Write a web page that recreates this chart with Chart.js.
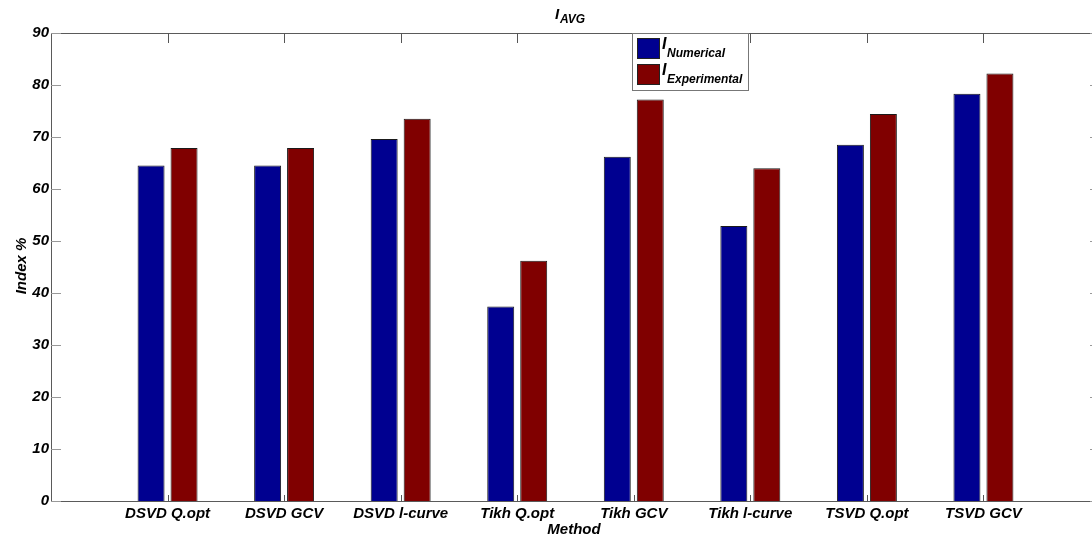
<!DOCTYPE html>
<html>
<head>
<meta charset="utf-8">
<script src="https://cdn.jsdelivr.net/npm/chart.js@4.4.1/dist/chart.umd.min.js"></script>
<style>
  html, body { margin: 0; padding: 0; background: #fff; overflow: hidden; }
  #wrap { width: 1092px; height: 540px; overflow: hidden; }
  canvas { display: block; }
</style>
</head>
<body>
<div id="wrap"><canvas id="c" width="1110" height="540"></canvas></div>
<script>
// Methods compared
const categories = ['DSVD Q.opt', 'DSVD GCV', 'DSVD l-curve', 'Tikh Q.opt', 'Tikh GCV', 'Tikh l-curve', 'TSVD Q.opt', 'TSVD GCV'];
// Average index (%) per method
const numerical    = [64.5, 64.5, 69.6, 37.4, 66.2, 52.9, 68.5, 78.3];
const experimental = [67.9, 67.9, 73.5, 46.2, 77.2, 64.0, 74.4, 82.2];
const yTicks = [0, 10, 20, 30, 40, 50, 60, 70, 80, 90];

const FONT = '"Liberation Sans", Arial, Helvetica, sans-serif';
const BLUE = '#000090';
const RED = '#800000';

// x range runs from 0 to 9 with the methods sitting at 1..8
const labels = [''].concat(categories, ['']);
const pad = arr => [null].concat(arr, [null]);

const decor = {
  id: 'decor',
  afterDatasetsDraw(chart) {
    const ctx = chart.ctx;
    const a = chart.chartArea;
    const xs = chart.scales.x, ys = chart.scales.y;
    ctx.save();
    // axes box
    ctx.strokeStyle = '#5a5a5a';
    ctx.lineWidth = 1;
    ctx.strokeRect(Math.round(a.left) + 0.5, Math.round(a.top) + 0.5, Math.round(a.right - a.left), Math.round(a.bottom - a.top));
    // inward ticks on x (bottom and top)
    ctx.strokeStyle = '#555';
    ctx.beginPath();
    for (let i = 1; i <= categories.length; i++) {
      const x = Math.round(xs.getPixelForValue(i)) + 0.5;
      ctx.moveTo(x, a.bottom); ctx.lineTo(x, a.bottom - 6);
      ctx.moveTo(x, a.top); ctx.lineTo(x, a.top + 10);
    }
    ctx.stroke();
    // inward ticks on y (left and right)
    ctx.strokeStyle = '#999';
    ctx.beginPath();
    yTicks.forEach(v => {
      const y = Math.round(ys.getPixelForValue(v)) + 0.5;
      ctx.moveTo(a.left, y); ctx.lineTo(a.left + 10, y);
      ctx.moveTo(a.right, y); ctx.lineTo(a.right - 10, y);
    });
    ctx.stroke();

    ctx.fillStyle = '#000';
    ctx.textBaseline = 'alphabetic';
    // title I_AVG
    ctx.font = 'italic bold 15px ' + FONT;
    ctx.textAlign = 'left';
    ctx.fillText('I', 555, 19);
    ctx.font = 'italic bold 12px ' + FONT;
    ctx.fillText('AVG', 560, 23);

    // axis titles
    ctx.font = 'italic bold 15px ' + FONT;
    ctx.textAlign = 'center';
    ctx.fillText('Method', 574, 534);
    ctx.save();
    ctx.translate(26, 266);
    ctx.rotate(-Math.PI / 2);
    ctx.fillText('Index %', 0, 0);
    ctx.restore();

    // legend
    const lx = 632.5, ly = 33.5, lw = 116, lh = 57;
    ctx.fillStyle = '#fff';
    ctx.fillRect(lx, ly, lw, lh);
    ctx.strokeStyle = '#777';
    ctx.strokeRect(lx, ly, lw, lh);
    const items = [
      { c: BLUE, sub: 'Numerical', y: 38 },
      { c: RED, sub: 'Experimental', y: 64 }
    ];
    items.forEach(it => {
      ctx.fillStyle = it.c;
      ctx.fillRect(637, it.y, 22, 20);
      ctx.strokeStyle = '#222';
      ctx.strokeRect(637.5, it.y + 0.5, 22, 20);
      ctx.fillStyle = '#000';
      ctx.textAlign = 'left';
      ctx.font = 'italic bold 16px ' + FONT;
      ctx.fillText('I', 662, it.y + 11);
      ctx.font = 'italic bold 12px ' + FONT;
      ctx.fillText(it.sub, 667, it.y + 19);
    });
    ctx.restore();
  }
};

new Chart(document.getElementById('c'), {
  type: 'bar',
  data: {
    labels: labels,
    datasets: [
      { label: 'Numerical', data: pad(numerical), backgroundColor: BLUE, borderColor: '#1a1a1a', borderWidth: 1,
        categoryPercentage: 0.566, barPercentage: 0.818 },
      { label: 'Experimental', data: pad(experimental), backgroundColor: RED, borderColor: '#1a1a1a', borderWidth: 1,
        categoryPercentage: 0.566, barPercentage: 0.818 }
    ]
  },
  options: {
    responsive: false,
    animation: false,
    devicePixelRatio: 1,
    layout: { padding: { top: 33, right: 10, left: 0, bottom: 0 } },
    plugins: { legend: { display: false }, title: { display: false }, tooltip: { enabled: false } },
    scales: {
      x: {
        type: 'category',
        offset: false,
        grid: { display: false, drawTicks: false },
        border: { display: false },
        ticks: { autoSkip: false, maxRotation: 0, minRotation: 0, padding: 4, color: '#000',
                 font: { family: FONT, size: 15, style: 'italic', weight: 'bold' } },
        afterFit(s) { s.height = 39; }
      },
      y: {
        min: 0, max: 90,
        grid: { display: false, drawTicks: false },
        border: { display: false },
        afterBuildTicks(s) { s.ticks = yTicks.map(v => ({ value: v })); },
        ticks: { padding: 2, color: '#000',
                 font: { family: FONT, size: 15, style: 'italic', weight: 'bold' } },
        afterFit(s) { s.width = 51; }
      }
    }
  },
  plugins: [decor]
});
</script>
</body>
</html>
